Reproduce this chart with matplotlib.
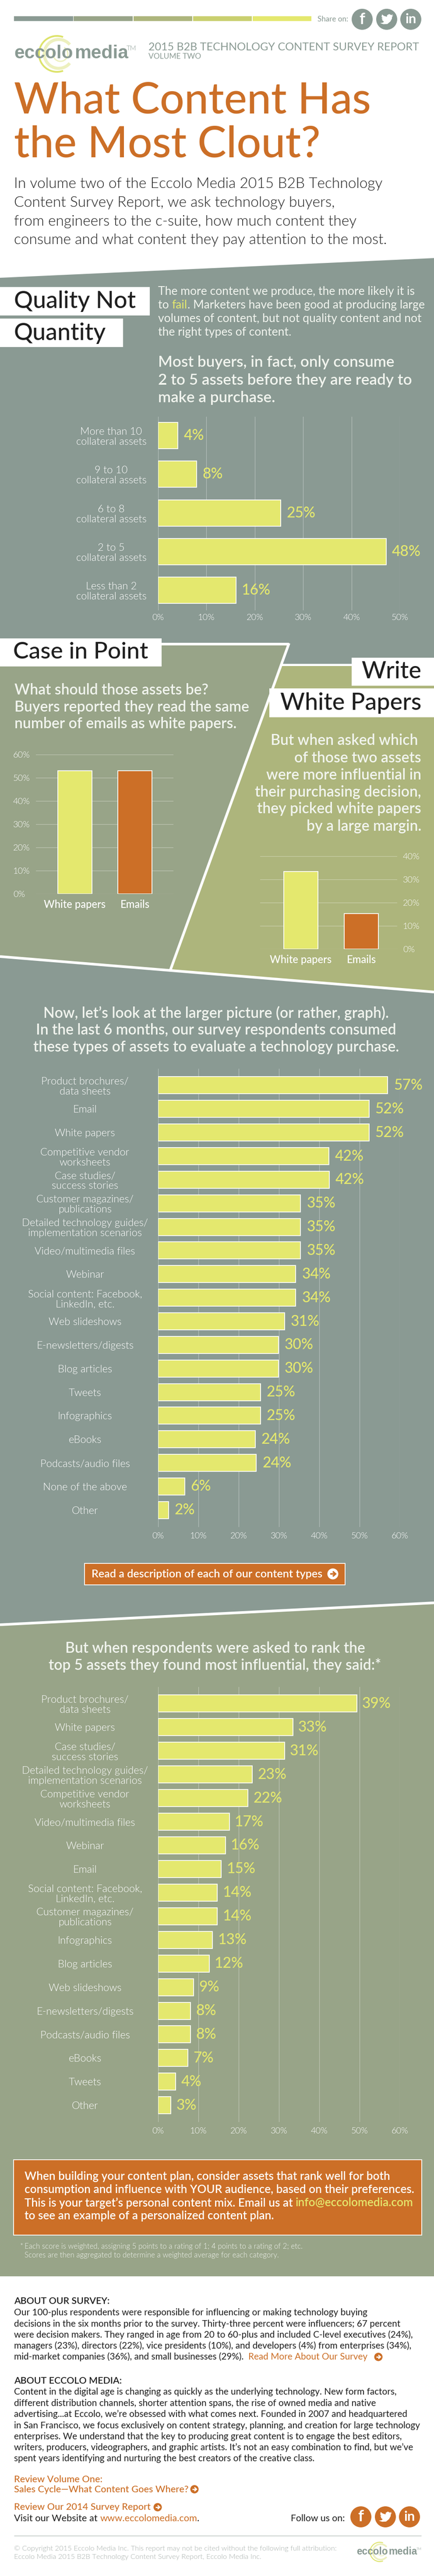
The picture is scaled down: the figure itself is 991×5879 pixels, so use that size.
import matplotlib
matplotlib.use("Agg")
import matplotlib.pyplot as plt
from matplotlib.patches import Polygon, Rectangle, Ellipse, Arc

W, H = 991, 5879
DPI = 100
GRAY = "#8A9A93"
SAGE = "#98A488"
OLIVE = "#ADB57C"
LIME = "#C9CF6F"
YELLOW = "#E4E86E"
ORANGE = "#CC6F27"
INK = "#1F1F1F"
WHITE = "#FFFFFF"
SOFT = "#F1F4EE"
LIGHT = 300

# ---- data --------------------------------------------------------------
purchase_cats = ["More than 10\ncollateral assets", "9 to 10\ncollateral assets",
                 "6 to 8\ncollateral assets", "2 to 5\ncollateral assets",
                 "Less than 2\ncollateral assets"]
purchase_lengths = [4.1, 8.0, 25.4, 47.2, 16.1]
purchase_labels = ["4%", "8%", "25%", "48%", "16%"]

read_cats = ["White papers", "Emails"]
read_values = [53, 53]
influence_values = [33.4, 15.3]

consumed_cats = ["Product brochures/\ndata sheets", "Email", "White papers",
                 "Competitive vendor\nworksheets", "Case studies/\nsuccess stories",
                 "Customer magazines/\npublications",
                 "Detailed technology guides/\nimplementation scenarios",
                 "Video/multimedia files", "Webinar",
                 "Social content: Facebook,\nLinkedIn, etc.", "Web slideshows",
                 "E-newsletters/digests", "Blog articles", "Tweets", "Infographics",
                 "eBooks", "Podcasts/audio files", "None of the above", "Other"]
consumed_lengths = [57.0, 52.4, 52.4, 42.4, 42.5, 35.4, 35.4, 35.4, 34.2, 34.2,
                    31.4, 29.9, 29.9, 25.4, 25.4, 24.1, 24.4, 6.6, 2.6]
consumed_labels = ["57%", "52%", "52%", "42%", "42%", "35%", "35%", "35%", "34%", "34%",
                   "31%", "30%", "30%", "25%", "25%", "24%", "24%", "6%", "2%"]

ranked_cats = ["Product brochures/\ndata sheets", "White papers",
               "Case studies/\nsuccess stories",
               "Detailed technology guides/\nimplementation scenarios",
               "Competitive vendor\nworksheets", "Video/multimedia files", "Webinar",
               "Email", "Social content: Facebook,\nLinkedIn, etc.",
               "Customer magazines/\npublications", "Infographics", "Blog articles",
               "Web slideshows", "E-newsletters/digests", "Podcasts/audio files",
               "eBooks", "Tweets", "Other"]
ranked_lengths = [49.4, 33.5, 31.4, 23.4, 22.3, 17.7, 16.7, 15.7, 14.7, 14.7,
                  13.5, 12.7, 8.8, 8.1, 8.1, 7.4, 4.4, 3.2]
ranked_labels = ["39%", "33%", "31%", "23%", "22%", "17%", "16%", "15%", "14%", "14%",
                 "13%", "12%", "9%", "8%", "8%", "7%", "4%", "3%"]

# ---- canvas -------------------------------------------------------------
plt.rcParams["font.family"] = ["Lato", "DejaVu Sans"]
fig = plt.figure(figsize=(W / DPI, H / DPI), dpi=DPI, facecolor="white")
bg = fig.add_axes([0, 0, 1, 1])
bg.set_xlim(0, W)
bg.set_ylim(H, 0)
bg.axis("off")
R = fig.canvas.get_renderer()


def pt(px):
    return px * 72.0 / DPI


def width_of(s, size, weight="normal", family=None):
    kw = {"family": family} if family else {}
    t = bg.text(0, 0, s + ".", fontsize=size, fontweight=weight, **kw)
    a = t.get_window_extent(R).width
    t.set_text(".")
    b = t.get_window_extent(R).width
    t.remove()
    return a - b


def fit(s, px_width, weight="normal", family=None):
    return 40.0 * px_width / width_of(s, 40.0, weight, family)


def T(x, y, s, size, color=INK, weight="normal", ha="left", va="center", **kw):
    kw.setdefault("zorder", 6)
    return bg.text(x, y, s, fontsize=size, color=color, fontweight=weight, ha=ha, va=va, **kw)


def runs(x, y, parts, size, weight="normal"):
    for s, c in parts:
        T(x, y, s, size, c, weight)
        x += width_of(s, size, weight)
    return x


def poly(points, color, z=1):
    bg.add_patch(Polygon(points, closed=True, facecolor=color, edgecolor="none", zorder=z))


def rect(x0, y0, x1, y1, face, edge="none", lw=0, z=2):
    bg.add_patch(Rectangle((x0, y0), x1 - x0, y1 - y0, facecolor=face, edgecolor=edge,
                           linewidth=lw, zorder=z))


def line(x0, y0, x1, y1, px, color=WHITE, z=3):
    bg.plot([x0, x1], [y0, y1], color=color, lw=pt(px), solid_capstyle="butt", zorder=z)


BIRD = [(1, -.58), (.8, -.52), (.95, -.76), (.7, -.64), (.38, -.8), (.06, -.62), (.03, -.38),
        (-.42, -.52), (-.72, -.74), (-.78, -.38), (-.62, -.12), (-.8, -.17), (-.62, .1),
        (-.72, .12), (-.42, .36), (-.55, .5), (-1, .58), (-.5, .75), (.1, .72), (.55, .35),
        (.8, -.1), (.82, -.38)]


def social(xs, y, color):
    r = 24
    for x in xs:
        bg.add_patch(Ellipse((x, y), 2 * r, 2 * r, facecolor=color, edgecolor="none", zorder=4))
    T(xs[0], y, "f", pt(36), WHITE, "bold", ha="center", zorder=5)
    poly([(xs[1] + 15 * a, y + 15 * b) for a, b in BIRD], WHITE, z=5)
    T(xs[2], y, "in", pt(31), WHITE, "bold", ha="center", zorder=5)


def arrow_dot(x, y, r, disc, mark):
    bg.add_patch(Ellipse((x, y), 2 * r, 2 * r, facecolor=disc, edgecolor="none", zorder=5))
    u = r * 0.5
    bg.plot([x - u, x + u * 0.9], [y, y], color=mark, lw=pt(r * .28), zorder=6, solid_capstyle="butt")
    bg.plot([x, x + u, x], [y - u * .9, y, y + u * .9], color=mark, lw=pt(r * .28), zorder=6,
            solid_joinstyle="miter", solid_capstyle="butt")


def logo(x0, x1, base, cx, cy, r, ink, tm_x, tm_y):
    k = r / 41.0
    bg.add_patch(Arc((cx, cy), 2 * r, 2 * r, theta1=70, theta2=290, color="#DDE36B", lw=pt(4 * k), zorder=2))
    bg.add_patch(Arc((cx + 4 * k, cy), 66 * k, 66 * k, theta1=40, theta2=320, color="#EDF0BE", lw=pt(7 * k), zorder=2))
    bg.add_patch(Arc((cx + 8 * k, cy), 34 * k, 34 * k, theta1=-60, theta2=200, color="#EDF0BE", lw=pt(3 * k), zorder=2))
    span = x1 - x0
    s = fit("eccolo", span * .534, "bold", "Liberation Sans")
    T(x0, base, "eccolo", s, ink, "bold", va="baseline", family="Liberation Sans", zorder=3)
    T(x0 + span * .55, base, "media", s, ink, "bold", va="baseline", family="Liberation Sans", zorder=3)
    T(tm_x, tm_y, "TM", s * .36, ink, LIGHT, zorder=3)


# ---- header -------------------------------------------------------------
for (a, b), c in zip([(32, 167), (168, 303), (305, 439), (441, 575), (577, 711)],
                     [GRAY, SAGE, OLIVE, LIME, YELLOW]):
    rect(a, 37, b, 48, c)
T(725, 44, "Share on:", fit("Share on:", 70), GRAY)
social([827, 883, 938], 44, GRAY)
logo(32, 283, 133, 130, 123, 41, GRAY, 289, 111)
T(339, 107, "2015 B2B TECHNOLOGY CONTENT SURVEY REPORT",
  fit("2015 B2B TECHNOLOGY CONTENT SURVEY REPORT", 620), GRAY)
T(339, 129, "VOLUME TWO", fit("VOLUME TWO", 120), GRAY)

s = fit("What Content Has", 814, "medium")
T(32, 230, "What Content Has", s, ORANGE, "medium")
T(32, 330, "the Most Clout?", s, ORANGE, "medium")

intro = ["In volume two of the Eccolo Media 2015 B2B Technology",
         "Content Survey Report, we ask technology buyers,",
         "from engineers to the c-suite, how much content they",
         "consume and what content they pay attention to the most."]
s = fit(intro[3], 851, LIGHT)
for y, l in zip([420, 463, 506, 548], intro):
    T(32, y, l, s, INK, LIGHT)

# ---- background bands ---------------------------------------------------
poly([(0, 634), (W, 589), (W, 3658), (0, 3708)], GRAY)
poly([(0, 3708), (W, 3658), (W, 5195), (0, 5195)], SAGE)
line(0, 3708, W, 3658, 6)
poly([(0, 1470), (660, 1470), (389, 2214), (0, 2183)], SAGE, z=1.2)
poly([(642, 1518), (W, 1518), (W, 2264), (389, 2214)], OLIVE, z=1.2)
line(369, 1470, 660, 1470, 6)
line(660, 1468, 389, 2214, 6)
line(0, 2183, W, 2264, 6)
line(643, 1517, 803, 1517, 5)

# ---- Quality not quantity -----------------------------------------------
rect(0, 655, 342, 720, WHITE)
rect(0, 727, 281, 792, WHITE)
s = fit("Quality Not", 278, "medium")
T(32, 687, "Quality Not", s, INK, "medium")
T(32, 760, "Quantity", s, INK, "medium")

s = fit("to fail. Marketers have been good at producing large", 608)
T(361, 665, "The more content we produce, the more likely it is", s, SOFT)
runs(361, 696, [("to ", SOFT), ("fail", YELLOW), (". Marketers have been good at producing large", SOFT)], s)
T(361, 727, "volumes of content, but not quality content and not", s, SOFT)
T(361, 758, "the right types of content.", s, SOFT)

s = fit("2 to 5 assets before they are ready to", 580, "semibold")
for y, l in zip([827, 868, 908], ["Most buyers, in fact, only consume",
                                  "2 to 5 assets before they are ready to",
                                  "make a purchase."]):
    T(361, y, l, s, SOFT, "semibold")


def px_axes(l, t, r, b):
    ax = fig.add_axes([l / W, 1 - b / H, (r - l) / W, (b - t) / H], facecolor="none")
    for sp in ax.spines.values():
        sp.set_visible(False)
    return ax


tick_size = fit("50%", 38.5, LIGHT)
cat_size = fit("Detailed technology guides/", 287, LIGHT)
val_size = fit("57%", 66, "medium")
GRID = dict(color=WHITE, alpha=.38, lw=pt(1.2))


def hbars(box, xmax, cats, lengths, labels, first, pitch, bar_px, label_x, xticks, gap, tick_gap):
    l, t, r, b = box
    ax = px_axes(l, t, r, b)
    ypos = list(range(len(cats)))
    ax.barh(ypos, lengths, height=bar_px / pitch, color=YELLOW, edgecolor=WHITE,
            linewidth=pt(1.8), zorder=3)
    ax.set_xlim(0, xmax)
    ax.set_ylim((b - first) / pitch, (t - first) / pitch)
    ax.set_xticks(xticks, [f"{v}%" for v in xticks], color=WHITE, fontsize=tick_size,
                  fontweight=LIGHT)
    ax.set_yticks(ypos, cats, color=WHITE, fontsize=cat_size, fontweight=LIGHT, ha="center",
                  multialignment="center", linespacing=1.12)
    ax.tick_params(axis="y", length=0, pad=pt(l - label_x))
    ax.tick_params(axis="x", length=0, pad=pt(tick_gap))
    ax.grid(axis="x", zorder=0, **GRID)
    ax.set_axisbelow(True)
    for y, v, lab in zip(ypos, lengths, labels):
        ax.annotate(lab, (v, y), xytext=(pt(gap), 0), textcoords="offset points", va="center",
                    color=YELLOW, fontsize=val_size, fontweight="medium", zorder=5)
    return ax


hbars((361, 951, 913, 1393), 50, purchase_cats, purchase_lengths, purchase_labels,
      994, 88.25, 60, 254, [0, 10, 20, 30, 40, 50], 13, 8)

# ---- Case in point ------------------------------------------------------
rect(0, 1457, 369, 1521, WHITE, z=4)
s = fit("Case in Point", 308, "medium")
T(30, 1488, "Case in Point", s, INK, "medium")
s = fit("Buyers reported they read the same", 536, "semibold")
for y, l in zip([1575, 1614, 1652], ["What should those assets be?",
                                     "Buyers reported they read the same",
                                     "number of emails as white papers."]):
    T(33, y, l, s, SOFT, "semibold")

bar_lab = fit("White papers", 141, "medium")


def vbars(box, values, ymax, yticks, x_first, x_pitch, bar_px, right=False, lab_gap=0):
    l, t, r, b = box
    ax = px_axes(l, t, r, b)
    ax.bar(range(len(values)), values, width=bar_px / x_pitch, color=[YELLOW, ORANGE],
           edgecolor=WHITE, linewidth=pt(1.8), zorder=3)
    ax.set_xlim((l - x_first) / x_pitch, (r - x_first) / x_pitch)
    ax.set_ylim(0, ymax)
    ax.set_xticks(range(len(values)), read_cats, color=WHITE, fontsize=bar_lab, fontweight="medium")
    ax.set_yticks(yticks, [f"{v}%" for v in yticks], color=WHITE, fontsize=tick_size,
                  fontweight=LIGHT, ha="left")
    if right:
        ax.yaxis.tick_right()
    ax.tick_params(axis="y", length=0, pad=pt(lab_gap))
    ax.tick_params(axis="x", length=0, pad=pt(13))
    ax.grid(axis="y", zorder=0, **GRID)
    ax.set_axisbelow(True)
    return ax


vbars((82, 1722, 396, 2040.3), read_values, 60, [0, 10, 20, 30, 40, 50, 60], 171, 137.2, 78,
      lab_gap=52)

# ---- Write white papers -------------------------------------------------
rect(803, 1501, W, 1565, WHITE, z=4)
rect(615, 1571, W, 1637, WHITE, z=4)
s = fit("White Papers", 322, "medium")
T(962, 1532, "Write", s, INK, "medium", ha="right")
T(962, 1604, "White Papers", s, INK, "medium", ha="right")
s = fit("were more influential in", 354, "semibold")
for y, l, rx in zip([1690, 1730, 1769, 1808, 1846, 1886],
                    ["But when asked which", "of those two assets", "were more influential in",
                     "their purchasing decision,", "they picked white papers", "by a large margin."],
                    [954, 962, 962, 962, 962, 962]):
    T(rx, y, l, s, SOFT, "semibold", ha="right")
vbars((593.5, 1954, 907, 2166), influence_values, 40, [0, 10, 20, 30, 40], 687, 138, 78,
      right=True, lab_gap=13)

# ---- Consumption chart --------------------------------------------------
s = fit("these types of assets to evaluate a technology purchase.", 835, "semibold")
for y, l in zip([2312, 2351, 2390], ["Now, let\u2019s look at the larger picture (or rather, graph).",
                                     "In the last 6 months, our survey respondents consumed",
                                     "these types of assets to evaluate a technology purchase."]):
    T(493.5, y, l, s, SOFT, "semibold", ha="center")
hbars((361, 2439, 912.6, 3485), 60, consumed_cats, consumed_lengths, consumed_labels,
      2477, 53.85, 39, 194, [0, 10, 20, 30, 40, 50, 60], 14, 12)

rect(193, 3568, 788, 3617, ORANGE, WHITE, pt(1.8))
T(209, 3592, "Read a description of each of our content types",
  fit("Read a description of each of our content types", 527, "semibold"), WHITE, "semibold")
arrow_dot(760, 3592, 12.5, WHITE, ORANGE)

# ---- Influence chart ----------------------------------------------------
s = fit("top 5 assets they found most influential, they said:*", 758, "semibold")
T(491, 3762, "But when respondents were asked to rank the", s, SOFT, "semibold", ha="center")
T(491, 3800, "top 5 assets they found most influential, they said:*", s, SOFT, "semibold", ha="center")
hbars((361, 3849.5, 912.6, 4843), 60, ranked_cats, ranked_lengths, ranked_labels,
      3887.8, 53.94, 39, 194, [0, 10, 20, 30, 40, 50, 60], 12, 12)

# ---- Call-out box -------------------------------------------------------
rect(31, 4929, 962.5, 5101, ORANGE, WHITE, pt(1.8))
s = fit("consumption and influence with YOUR audience, based on their preferences.", 885, "semibold")
T(55.6, 4967, "When building your content plan, consider assets that rank well for both", s, WHITE, "semibold")
T(55.6, 4998, "consumption and influence with YOUR audience, based on their preferences.", s, WHITE, "semibold")
bx = runs(55.6, 5028, [("This is your target\u2019s personal content mix. Email us at ", WHITE)], s, "semibold")
T(bx, 5028, "info@eccolomedia.com", s, YELLOW, "semibold")
T(55.6, 5058, "to see an example of a personalized content plan.", s, WHITE, "semibold")
s = fit("Each score is weighted, assigning 5 points to a rating of 1; 4 points to a rating of 2; etc.", 631, LIGHT)
T(45.5, 5127, "*", s, SOFT, LIGHT)
T(55.6, 5127, "Each score is weighted, assigning 5 points to a rating of 1; 4 points to a rating of 2; etc.", s, SOFT, LIGHT)
T(55.6, 5147, "Scores are then aggregated to determine a weighted average for each category.", s, SOFT, LIGHT)

# ---- Footer -------------------------------------------------------------
T(32, 5252, "ABOUT OUR SURVEY:", fit("ABOUT OUR SURVEY:", 219, "semibold"), INK, "semibold")
T(32, 5433.5, "ABOUT ECCOLO MEDIA:", fit("ABOUT ECCOLO MEDIA:", 246, "semibold"), INK, "semibold")
survey = ["Our 100-plus respondents were responsible for influencing or making technology buying",
          "decisions in the six months prior to the survey. Thirty-three percent were influencers; 67 percent",
          "were decision makers. They ranged in age from 20 to 60-plus and included C-level executives (24%),",
          "managers (23%), directors (22%), vice presidents (10%), and developers (4%) from enterprises (34%),"]
s = fit(survey[2], 910)
for y, l in zip([5278, 5303.5, 5328.5, 5354], survey):
    T(32, y, l, s)
runs(32, 5379, [("mid-market companies (36%), and small businesses (29%).  ", INK),
                ("Read More About Our Survey", ORANGE)], s)
arrow_dot(864, 5379, 9.5, ORANGE, WHITE)
eccolo = ["Content in the digital age is changing as quickly as the underlying technology. New form factors,",
          "different distribution channels, shorter attention spans, the rise of owned media and native",
          "advertising...at Eccolo, we\u2019re obsessed with what comes next. Founded in 2007 and headquartered",
          "in San Francisco, we focus exclusively on content strategy, planning, and creation for large technology",
          "enterprises. We understand that the key to producing great content is to engage the best editors,",
          "writers, producers, videographers, and graphic artists. It\u2019s not an easy combination to find, but we\u2019ve",
          "spent years identifying and nurturing the best creators of the creative class."]
for y, l in zip([5459, 5485, 5510, 5535.5, 5561, 5586, 5611], eccolo):
    T(32, y, l, s)

s = fit("Sales Cycle\u2014What Content Goes Where?", 397, "medium")
T(32, 5659, "Review Volume One:", s, ORANGE, "medium")
T(32, 5681.5, "Sales Cycle\u2014What Content Goes Where?", s, ORANGE, "medium")
arrow_dot(444, 5681, 9.5, ORANGE, WHITE)
T(32, 5722, "Review Our 2014 Survey Report", s, ORANGE, "medium")
arrow_dot(360, 5722, 9.5, ORANGE, WHITE)
s = fit("Visit our Website at www.eccolomedia.com.", 422)
runs(32, 5747.5, [("Visit our Website at ", INK), ("www.eccolomedia.com", ORANGE), (".", INK)], s)
T(664, 5747.5, "Follow us on:", fit("Follow us on:", 123), INK)
social([824, 880, 935], 5744, ORANGE)
line(32, 5787, 962, 5787, 1.2, "#AEB8B4")

s = fit("\u00a9 Copyright 2015 Eccolo Media Inc. This report may not be cited without the following full attribution:", 731, LIGHT)
T(32, 5817, "\u00a9 Copyright 2015 Eccolo Media Inc. This report may not be cited without the following full attribution:", s, "#A5ADA9", LIGHT)
T(32, 5836, "Eccolo Media 2015 B2B Technology Content Survey Report, Eccolo Media Inc.", s, "#A5ADA9", LIGHT)
logo(814, 948, 5830, 867, 5824, 22, GRAY, 951, 5818)

fig.savefig("out.png", dpi=DPI, facecolor="white")
